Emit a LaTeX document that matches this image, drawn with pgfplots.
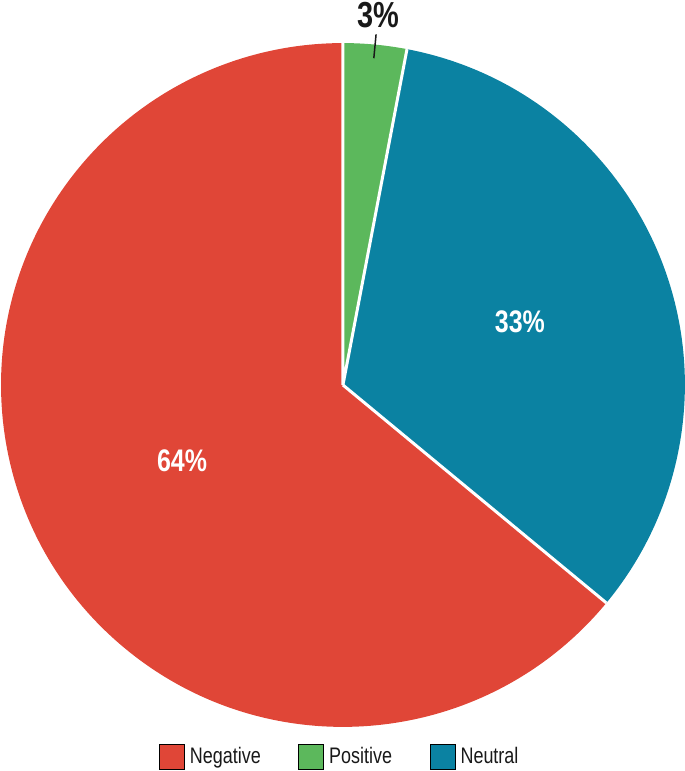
\documentclass[border=0pt]{standalone}
\usepackage{fontspec}
\setmainfont{Liberation Sans}[FakeStretch=0.8]
\usepackage{pgfplots}
\usepackage{pgfplotstable}
\pgfplotsset{compat=1.18}

\definecolor{negred}{RGB}{224,70,55}
\definecolor{posgreen}{RGB}{92,184,92}
\definecolor{neublue}{RGB}{11,130,162}

\pgfplotsset{
  sqlegend/.style={legend image code/.code={\fill[##1] (0pt,-5pt) rectangle (10pt,5pt);}},
}

% share of each sentiment, in drawing order (clockwise from the top)
\pgfplotstableread{
name value
Positive 3
Neutral 33
Negative 64
}\piedata

\begin{document}
\begin{tikzpicture}
\pgfplotstablegetelem{0}{value}\of\piedata \let\vPos\pgfplotsretval
\pgfplotstablegetelem{1}{value}\of\piedata \let\vNeu\pgfplotsretval
\pgfplotstablegetelem{2}{value}\of\piedata \let\vNeg\pgfplotsretval
\pgfmathsetmacro\aA{90}
\pgfmathsetmacro\aB{\aA-3.6*\vPos}
\pgfmathsetmacro\aC{\aB-3.6*\vNeu}
\pgfmathsetmacro\aD{\aC-3.6*\vNeg}
\pgfmathsetmacro\mPos{(\aA+\aB)/2}
\pgfmathsetmacro\mNeu{(\aB+\aC)/2}
\pgfmathsetmacro\mNeg{(\aC+\aD)/2}
\begin{axis}[
  x=137pt, y=137pt,
  xmin=-1.003, xmax=1.0, ymin=-1.129, ymax=1.126,
  hide axis, clip=false,
  legend style={at={(axis cs:-0.005,-1.088)}, anchor=center, draw=none, fill=none,
    legend columns=3, font=\fontsize{9}{10}\selectfont, text=black!90,
    /tikz/every even column/.append style={column sep=13pt}},
]
\addlegendimage{sqlegend, fill=negred}\addlegendentry{Negative}
\addlegendimage{sqlegend, fill=posgreen}\addlegendentry{Positive}
\addlegendimage{sqlegend, fill=neublue}\addlegendentry{Neutral}

\fill[posgreen] (0,0) -- ({cos(\aA)},{sin(\aA)}) arc[start angle=\aA, end angle=\aB, radius=137pt] -- cycle;
\fill[neublue] (0,0) -- ({cos(\aB)},{sin(\aB)}) arc[start angle=\aB, end angle=\aC, radius=137pt] -- cycle;
\fill[negred] (0,0) -- ({cos(\aC)},{sin(\aC)}) arc[start angle=\aC, end angle=\aD, radius=137pt] -- cycle;
\draw[white, line width=1.2pt] ({cos(\aA)},{sin(\aA)}) -- (0,0) -- ({cos(\aB)},{sin(\aB)});
\draw[white, line width=1.2pt] (0,0) -- ({cos(\aC)},{sin(\aC)});

\node[white, font=\bfseries\fontsize{12.5}{13}\selectfont] at ({0.55*cos(\mNeu)},{0.55*sin(\mNeu)}) {33\%};
\node[white, font=\bfseries\fontsize{12.5}{13}\selectfont] at ({0.52*cos(\mNeg)},{0.52*sin(\mNeg)}) {64\%};
\draw[black!90, line width=0.6pt] ({0.96*cos(\mPos)},{0.96*sin(\mPos)}) -- ({1.03*cos(\mPos)},{1.03*sin(\mPos)});
\node[black!90, font=\bfseries\fontsize{14.5}{15}\selectfont] at ({1.088*cos(\mPos)},{1.088*sin(\mPos)}) {3\%};
\end{axis}
\pgfresetboundingbox
\path[use as bounding box] (current axis.south west) rectangle (current axis.north east);
\end{tikzpicture}
\end{document}
